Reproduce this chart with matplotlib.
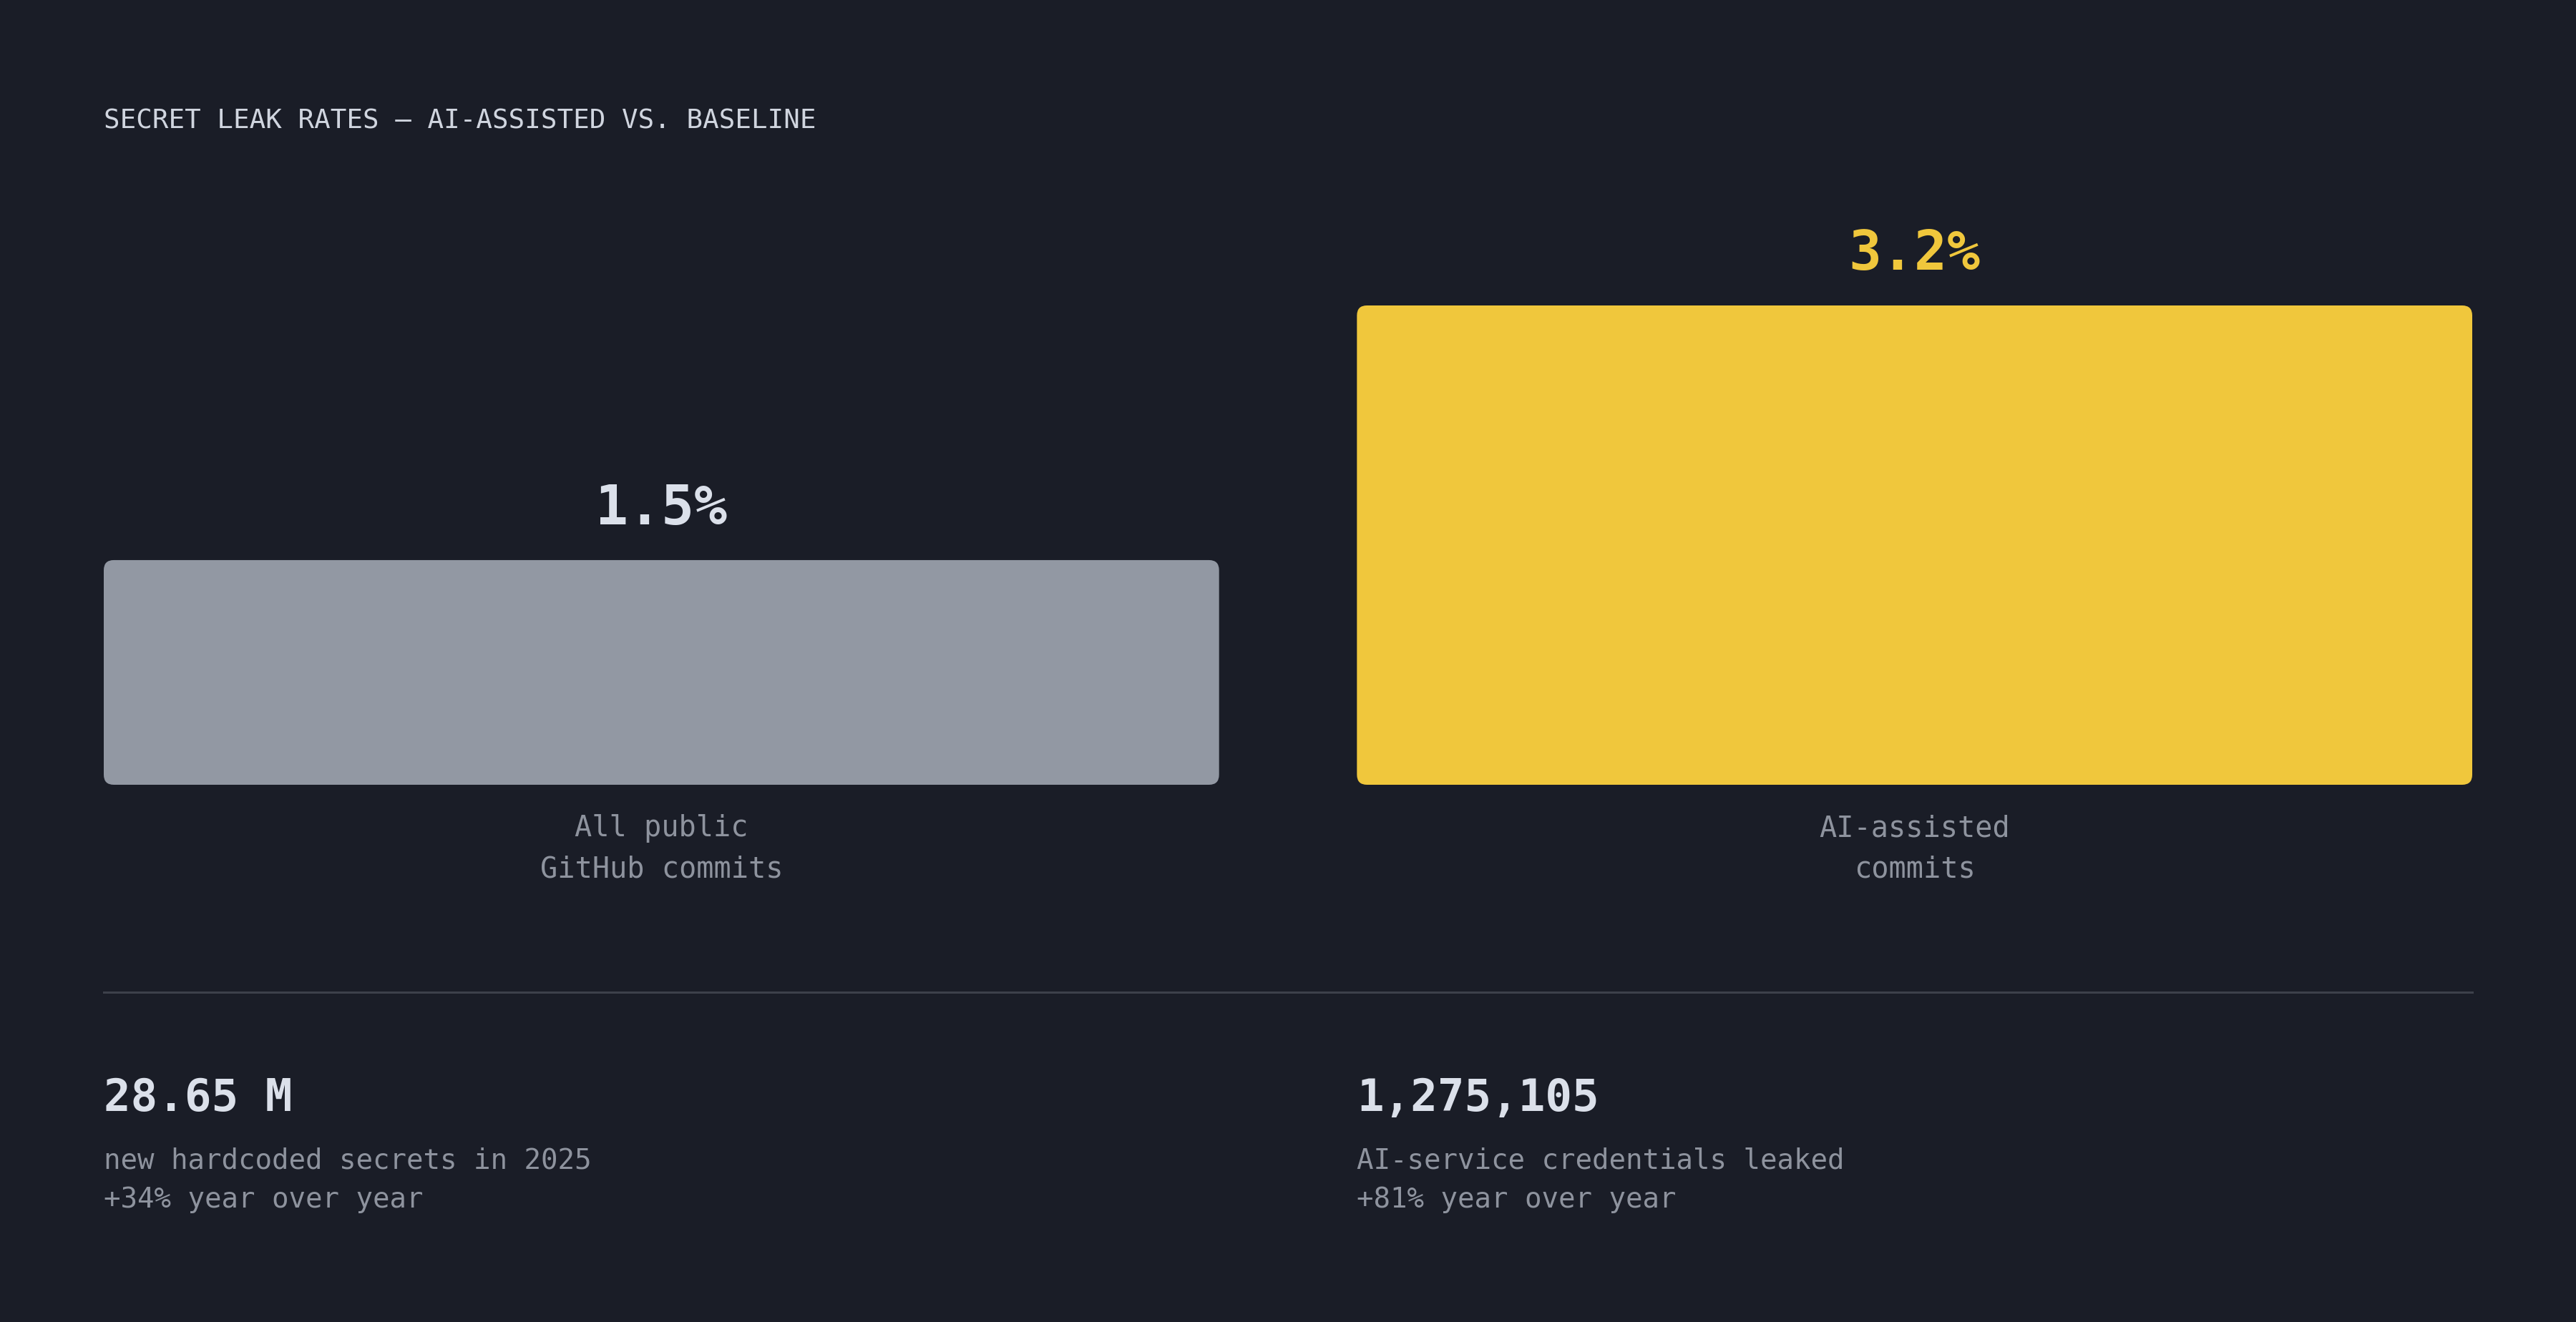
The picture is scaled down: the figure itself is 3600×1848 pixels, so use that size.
import matplotlib
matplotlib.use("Agg")
import matplotlib.pyplot as plt
from matplotlib.patches import FancyBboxPatch

# data
categories = ["All public\nGitHub commits", "AI-assisted\ncommits"]
rates = [1.5, 3.2]
rate_labels = ["1.5%", "3.2%"]
stat_values = ["28.65 M", "1,275,105"]
stat_notes = ["new hardcoded secrets in 2025\n+34% year over year",
              "AI-service credentials leaked\n+81% year over year"]
title = "SECRET LEAK RATES \u2014 AI-ASSISTED VS. BASELINE"

# colours
bg = "#1a1d27"
bar_colors = ["#9298a3", "#f0c73c"]
value_colors = ["#dbe0ea", "#f0c73c"]
light = "#dbe0ea"
muted = "#8e939e"
rule = "#3d414b"
mono = ["DejaVu Sans Mono"]

W, H = 3600, 1848
fig = plt.figure(figsize=(W / 200, H / 200), dpi=200, facecolor=bg)


def px(x, y):
    return x / W, 1 - y / H


# title
fig.text(*px(145, 179), title, color="#d0d5df", fontsize=13.5,
         family=mono, ha="left", va="baseline")

# bars
x0, x1, ytop, ybot = 145, 3455, 427, 1097
ax = fig.add_axes([x0 / W, 1 - ybot / H, (x1 - x0) / W, (ybot - ytop) / H])
ax.set_facecolor(bg)
width = 0.89
ax.set_xlim(-width / 2, len(rates) - 1 + width / 2)
ax.set_ylim(0, max(rates))
ax.axis("off")

bars = ax.bar(range(len(rates)), rates, width=width, color=bar_colors)
fig.canvas.draw()
# rounded corners, radius in pixels converted to data units
sx = ax.transData.transform((1, 0))[0] - ax.transData.transform((0, 0))[0]
sy = ax.transData.transform((0, 1))[1] - ax.transData.transform((0, 0))[1]
r = 14 / sx
for b, c in zip(bars, bar_colors):
    b.set_visible(False)
    ax.add_patch(FancyBboxPatch((b.get_x(), b.get_y()), b.get_width(), b.get_height(),
                                boxstyle=f"round,pad=0,rounding_size={r}",
                                mutation_aspect=sx / sy, facecolor=c,
                                edgecolor="none"))

for i, (v, lab) in enumerate(zip(rates, rate_labels)):
    ax.annotate(lab, (i, v), xytext=(0, 18), textcoords="offset points",
                ha="center", va="baseline", fontsize=27.5, fontweight="bold",
                family=mono, color=value_colors[i], annotation_clip=False)
    for k, line in enumerate(categories[i].split("\n")):
        ax.annotate(line, (i, 0), xytext=(0, -26 - k * 20.5), textcoords="offset points",
                    ha="center", va="baseline", fontsize=14.5, family=mono,
                    color=muted, annotation_clip=False)

# separator
fig.add_artist(plt.Line2D([x0 / W, x1 / W], [1 - 1387 / H] * 2,
                          color=rule, linewidth=1.1))

# stats
for i, (val, note) in enumerate(zip(stat_values, stat_notes)):
    sxp = [145, 1896][i]
    fig.text(*px(sxp, 1553), val, color=light, fontsize=22.5, fontweight="bold",
             family=mono, ha="left", va="baseline")
    for k, line in enumerate(note.split("\n")):
        fig.text(*px(sxp, 1633 + k * 55), line, color=muted, fontsize=14.1,
                 family=mono, ha="left", va="baseline")

fig.savefig("out.png", dpi=200, facecolor=bg)
